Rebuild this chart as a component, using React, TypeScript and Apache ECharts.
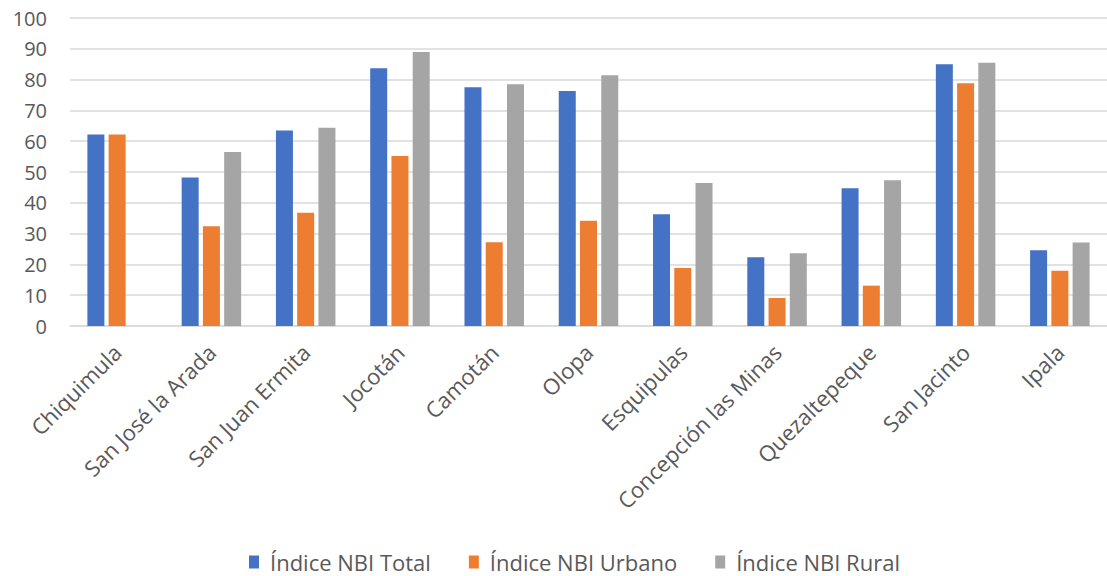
import React, { useEffect, useRef } from "react";
import * as echarts from "echarts";

const categories = [
  "Chiquimula",
  "San José la Arada",
  "San Juan Ermita",
  "Jocotán",
  "Camotán",
  "Olopa",
  "Esquipulas",
  "Concepción las Minas",
  "Quezaltepeque",
  "San Jacinto",
  "Ipala",
];
const nbiTotal = [62.2, 48.2, 63.5, 83.7, 77.5, 76.3, 36.3, 22.3, 44.7, 85.0, 24.6];
const nbiUrbano = [62.2, 32.4, 36.8, 55.2, 27.2, 34.2, 18.8, 9.1, 13.1, 78.8, 17.9];
const nbiRural = [null, 56.5, 64.4, 89.0, 78.5, 81.4, 46.4, 23.6, 47.3, 85.5, 27.1];
const seriesNames = ["Índice NBI Total", "Índice NBI Urbano", "Índice NBI Rural"];
const colors = ["#4472C4", "#ED7D31", "#A5A5A5"];

export default function App() {
  const ref = useRef<HTMLDivElement>(null);
  useEffect(() => {
    if (!ref.current) return;
    const chart = echarts.init(ref.current, null, { renderer: "svg" });
    const font = "'Open Sans', sans-serif";
    const data = [nbiTotal, nbiUrbano, nbiRural];
    chart.setOption({
      animation: false,
      textStyle: { fontFamily: font },
      color: colors,
      grid: { left: 70, right: -10, top: 18, bottom: 250, containLabel: false },
      legend: {
        data: seriesNames,
        left: 249,
        top: 550,
        padding: 0,
        itemWidth: 10,
        itemHeight: 13,
        itemGap: 38,
        icon: "rect",
        textStyle: {
          fontSize: 22,
          lineHeight: 24,
          color: "#595959",
          fontFamily: font,
          padding: [0, 0, 0, 6],
        },
      },
      xAxis: {
        type: "category",
        data: categories,
        axisLine: { lineStyle: { color: "#d9d9d9", width: 1.5 } },
        axisTick: { show: false },
        axisLabel: {
          rotate: 45,
          interval: 0,
          margin: 22,
          fontSize: 22,
          color: "#595959",
          fontFamily: font,
        },
      },
      yAxis: {
        type: "value",
        min: 0,
        max: 100,
        interval: 10,
        axisLine: { show: false },
        axisTick: { show: false },
        splitLine: { lineStyle: { color: "#d9d9d9", width: 1.5 } },
        axisLabel: { fontSize: 20, color: "#595959", margin: 23, fontFamily: font },
      },
      series: seriesNames.map((name, i) => ({
        name,
        type: "bar",
        data: data[i],
        barWidth: 17,
        barGap: "25%",
        itemStyle: { color: colors[i] },
      })),
    });
    return () => chart.dispose();
  }, []);
  return (
    <div
      ref={ref}
      style={{ position: "fixed", left: 0, top: 0, width: 1107, height: 576, background: "#fff" }}
    />
  );
}
